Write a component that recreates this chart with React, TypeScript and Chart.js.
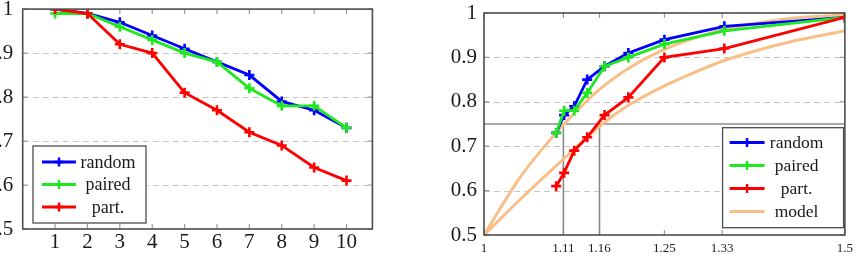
import { useEffect, useRef } from 'react';
import { Chart, registerables } from 'chart.js';

Chart.register(...registerables);

// ---------- data: left chart ----------
const leftX = [1, 2, 3, 4, 5, 6, 7, 8, 9, 10];
const leftRandom = [1.0, 0.99, 0.97, 0.94, 0.91, 0.88, 0.85, 0.79, 0.77, 0.73];
const leftPaired = [0.99, 0.99, 0.96, 0.93, 0.9, 0.88, 0.82, 0.78, 0.78, 0.73];
const leftPart = [1.0, 0.99, 0.92, 0.9, 0.81, 0.77, 0.72, 0.69, 0.64, 0.61];
const leftXTicks = [1, 2, 3, 4, 5, 6, 7, 8, 9, 10];
const leftXRange = [0, 10.8];

// ---------- data: right chart ----------
const rightX = [1.1, 1.111, 1.125, 1.143, 1.167, 1.2, 1.25, 1.333, 1.5];
const rightRandom = [0.73, 0.77, 0.79, 0.85, 0.88, 0.91, 0.94, 0.97, 0.99];
const rightPaired = [0.73, 0.78, 0.78, 0.82, 0.88, 0.9, 0.93, 0.96, 0.99];
const rightPart = [0.61, 0.64, 0.69, 0.72, 0.77, 0.81, 0.9, 0.92, 0.99];
const modelX = [1, 1.05, 1.1, 1.143, 1.16, 1.2, 1.25, 1.3, 1.333, 1.416, 1.5];
const modelUpper = [0.5, 0.63, 0.73, 0.803, 0.828, 0.875, 0.918, 0.948, 0.963, 0.986, 0.996];
const modelLower = [0.5, 0.58, 0.656, 0.72, 0.745, 0.792, 0.836, 0.872, 0.893, 0.932, 0.96];
const rightXTicks = [1, 1.11, 1.16, 1.25, 1.33, 1.5];
const rightXTickLabels = ['1', '1.11', '1.16', '1.25', '1.33', '1.5'];
const rightXRange = [1, 1.5];
const refY = 0.75;
const refXs = [1.11, 1.16];

// ---------- shared y axis ----------
const yTicks = [0.5, 0.6, 0.7, 0.8, 0.9, 1];
const yTickLabels = ['0.5', '0.6', '0.7', '0.8', '0.9', '1'];
const yRange = [0.5, 1];
const yGrid = [0.6, 0.7, 0.8, 0.9];

const BLUE = '#0000ff';
const GREEN = '#1ee81e';
const RED = '#ff0000';
const ORANGE = '#f9bf88';
const FONT = "'Liberation Serif', 'DejaVu Serif', serif";

type LegendItem = { label: string; color: string; marker: boolean };
type LegendBox = {
  left?: number; right?: number; bottom: number; width: number; height: number;
  firstRow: number; rowGap: number; sampleLeft: number; sampleLen: number;
  textCenter: number; fontSize: number;
};

function makeDecor(xTickVals: number[], items: LegendItem[], box: LegendBox) {
  return {
    id: 'decor',
    beforeDatasetsDraw(chart: any) {
      const { ctx, chartArea: ca, scales } = chart;
      const xs = scales.x, ys = scales.y;
      ctx.save();
      ctx.strokeStyle = '#c6c6c6';
      ctx.lineWidth = 1;
      ctx.setLineDash([6, 4]);
      for (const v of yGrid) {
        const py = Math.round(ys.getPixelForValue(v)) + 0.5;
        ctx.beginPath(); ctx.moveTo(ca.left, py); ctx.lineTo(ca.right, py); ctx.stroke();
      }
      ctx.setLineDash([]);
      ctx.strokeStyle = '#9a9a9a';
      ctx.lineWidth = 1.2;
      const tl = 5;
      for (const v of xTickVals) {
        const px = xs.getPixelForValue(v);
        ctx.beginPath();
        ctx.moveTo(px, ca.bottom); ctx.lineTo(px, ca.bottom - tl);
        ctx.moveTo(px, ca.top); ctx.lineTo(px, ca.top + tl);
        ctx.stroke();
      }
      for (const v of yTicks) {
        const py = ys.getPixelForValue(v);
        ctx.beginPath();
        ctx.moveTo(ca.left, py); ctx.lineTo(ca.left + tl, py);
        ctx.moveTo(ca.right, py); ctx.lineTo(ca.right - tl, py);
        ctx.stroke();
      }
      ctx.restore();
    },
    afterDraw(chart: any) {
      const { ctx, chartArea: ca } = chart;
      ctx.save();
      ctx.strokeStyle = '#4d4d4d';
      ctx.lineWidth = 1.6;
      ctx.strokeRect(ca.left, ca.top, ca.right - ca.left, ca.bottom - ca.top);
      // legend
      const bx = box.left !== undefined ? ca.left + box.left : ca.right - (box.right as number) - box.width;
      const by = ca.bottom - box.bottom - box.height;
      ctx.fillStyle = '#ffffff';
      ctx.fillRect(bx, by, box.width, box.height);
      ctx.strokeStyle = '#4d4d4d';
      ctx.lineWidth = 1.3;
      ctx.strokeRect(bx, by, box.width, box.height);
      ctx.font = `${box.fontSize}px ${FONT}`;
      ctx.textAlign = 'center';
      ctx.textBaseline = 'middle';
      items.forEach((it, i) => {
        const ry = by + box.firstRow + i * box.rowGap;
        const sx = bx + box.sampleLeft;
        ctx.strokeStyle = it.color;
        ctx.lineWidth = 3;
        ctx.beginPath(); ctx.moveTo(sx, ry); ctx.lineTo(sx + box.sampleLen, ry); ctx.stroke();
        if (it.marker) {
          const cx = sx + box.sampleLen / 2;
          ctx.lineWidth = 2.5;
          ctx.beginPath();
          ctx.moveTo(cx, ry - 4.5); ctx.lineTo(cx, ry + 4.5);
          ctx.moveTo(cx - 4.5, ry); ctx.lineTo(cx + 4.5, ry);
          ctx.stroke();
        }
        ctx.fillStyle = '#1a1a1a';
        ctx.fillText(it.label, bx + box.textCenter, ry + 1);
      });
      ctx.restore();
    },
  };
}

function series(xs: number[], ys: number[]) {
  return xs.map((x, i) => ({ x, y: ys[i] }));
}

function dataLine(label: string, color: string, xs: number[], ys: number[]) {
  return {
    label,
    data: series(xs, ys),
    borderColor: color,
    backgroundColor: color,
    borderWidth: 2.8,
    pointStyle: 'cross',
    pointRadius: 5,
    pointBorderWidth: 2.6,
    pointHoverRadius: 5,
    tension: 0,
  };
}

function yScale(width: number, padding: number) {
  return {
    type: 'linear',
    min: yRange[0],
    max: yRange[1],
    afterBuildTicks: (s: any) => { s.ticks = yTicks.map((v) => ({ value: v })); },
    afterFit: (s: any) => { s.width = width; },
    grid: { display: false, drawTicks: false },
    border: { display: false },
    ticks: {
      padding,
      color: '#1a1a1a',
      font: { family: FONT, size: 21 },
      callback: (_v: any, i: number) => yTickLabels[i],
    },
  };
}

function leftConfig(): any {
  return {
    type: 'line',
    data: {
      datasets: [
        dataLine('part.', RED, leftX, leftPart),
        dataLine('paired', GREEN, leftX, leftPaired),
        dataLine('random', BLUE, leftX, leftRandom),
      ],
    },
    options: {
      animation: false,
      responsive: true,
      maintainAspectRatio: false,
      layout: { padding: { top: 20, right: 1, left: 0, bottom: 0 } },
      plugins: { legend: { display: false }, tooltip: { enabled: false } },
      scales: {
        x: {
          type: 'linear',
          min: leftXRange[0],
          max: leftXRange[1],
          afterBuildTicks: (s: any) => { s.ticks = leftXTicks.map((v) => ({ value: v })); },
          afterFit: (s: any) => { s.height = 31; },
          grid: { display: false, drawTicks: false },
          border: { display: false },
          ticks: {
            padding: 1,
            maxRotation: 0,
            autoSkip: false,
            color: '#1a1a1a',
            font: { family: FONT, size: 21 },
            callback: (v: any) => String(v),
          },
        },
        y: yScale(42.7, 9.5),
      },
    },
    plugins: [
      makeDecor(
        leftXTicks,
        [
          { label: 'random', color: BLUE, marker: true },
          { label: 'paired', color: GREEN, marker: true },
          { label: 'part.', color: RED, marker: true },
        ],
        { left: 10.3, bottom: 6, width: 113, height: 77, firstRow: 16, rowGap: 22.5, sampleLeft: 9, sampleLen: 34, textCenter: 75, fontSize: 18 }
      ),
    ],
  };
}

function refLine(pts: { x: number; y: number }[]) {
  return {
    label: '',
    data: pts,
    borderColor: '#8a8a8a',
    borderWidth: 1.6,
    pointRadius: 0,
    pointHoverRadius: 0,
    tension: 0,
  };
}

function modelLine(ys: number[]) {
  return {
    label: 'model',
    data: series(modelX, ys),
    borderColor: ORANGE,
    borderWidth: 3,
    pointRadius: 0,
    pointHoverRadius: 0,
    cubicInterpolationMode: 'monotone',
  };
}

function rightConfig(): any {
  return {
    type: 'line',
    data: {
      datasets: [
        dataLine('part.', RED, rightX, rightPart),
        dataLine('paired', GREEN, rightX, rightPaired),
        dataLine('random', BLUE, rightX, rightRandom),
        modelLine(modelUpper),
        modelLine(modelLower),
        refLine([{ x: rightXRange[0], y: refY }, { x: rightXRange[1], y: refY }]),
        ...refXs.map((x) => refLine([{ x, y: yRange[0] }, { x, y: refY }])),
      ],
    },
    options: {
      animation: false,
      responsive: true,
      maintainAspectRatio: false,
      layout: { padding: { top: 25, right: 11, left: 0, bottom: 0 } },
      plugins: { legend: { display: false }, tooltip: { enabled: false } },
      scales: {
        x: {
          type: 'linear',
          min: rightXRange[0],
          max: rightXRange[1],
          afterBuildTicks: (s: any) => { s.ticks = rightXTicks.map((v) => ({ value: v })); },
          afterFit: (s: any) => { s.height = 25; },
          grid: { display: false, drawTicks: false },
          border: { display: false },
          ticks: {
            padding: 6,
            maxRotation: 0,
            autoSkip: false,
            color: '#1a1a1a',
            font: { family: FONT, size: 13 },
            callback: (_v: any, i: number) => rightXTickLabels[i],
          },
        },
        y: yScale(64, 7),
      },
    },
    plugins: [
      makeDecor(
        rightXTicks,
        [
          { label: 'random', color: BLUE, marker: true },
          { label: 'paired', color: GREEN, marker: true },
          { label: 'part.', color: RED, marker: true },
          { label: 'model', color: ORANGE, marker: false },
        ],
        { right: 1.3, bottom: 7.3, width: 121, height: 100, firstRow: 14.7, rowGap: 23, sampleLeft: 7, sampleLen: 35, textCenter: 74, fontSize: 17.5 }
      ),
    ],
  };
}

export default function App() {
  const leftRef = useRef<HTMLCanvasElement>(null);
  const rightRef = useRef<HTMLCanvasElement>(null);
  useEffect(() => {
    const c1 = new Chart(leftRef.current as HTMLCanvasElement, leftConfig());
    const c2 = new Chart(rightRef.current as HTMLCanvasElement, rightConfig());
    return () => { c1.destroy(); c2.destroy(); };
  }, []);
  return (
    <div style={{ position: 'absolute', left: 0, top: 0, width: 859, height: 260, overflow: 'hidden', background: '#ffffff' }}>
      <div style={{ position: 'absolute', left: -20, top: -13, width: 400, height: 273 }}>
        <canvas ref={leftRef} />
      </div>
      <div style={{ position: 'absolute', left: 420, top: -12, width: 439, height: 272 }}>
        <canvas ref={rightRef} />
      </div>
    </div>
  );
}
